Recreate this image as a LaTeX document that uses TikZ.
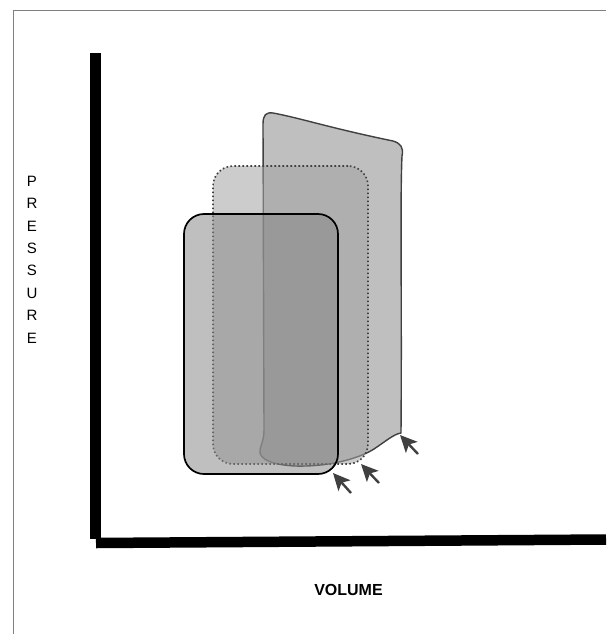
\documentclass[tikz,border=0pt]{standalone}
\usepackage{fontspec}
\setmainfont{Liberation Sans}
\usepackage{tikz}
\usetikzlibrary{arrows.meta}

\definecolor{loopline}{gray}{0.25}
\definecolor{widefill}{gray}{0.75}
\definecolor{dotfill}{gray}{0.64}
\definecolor{frontfill}{gray}{0.53}

\begin{document}
\begin{tikzpicture}[
	    x=1pt, y=-1pt,
	    axis/.style={line width=10.5pt},
	    loopbox/.style={rectangle, rounded corners=20pt, inner sep=0pt},
	    arrow/.style={-{Stealth[length=17pt,width=16pt,inset=4pt]}, line width=2.4pt, draw=loopline, fill=loopline}
	]
		\useasboundingbox (0,0) rectangle (606,634);

		% frame
		\draw[gray, line width=1.4pt] (13.5,634) -- (13.5,10.5) -- (606,10.5);

		% axes
		\draw[axis] (95.5,53) -- (95.5,539);
		\draw[axis] (96,543) -- (606,539.5);

		% widest loop
		\draw[loopline, line width=1.4pt, fill=widefill]
			(264,430) -- (263,124)
			.. controls (263,115) and (266,112) .. (273,113)
			.. controls (300,118) and (330,128) .. (393,141)
			.. controls (400,143) and (404,147) .. (402,156)
			.. controls (400,200) and (402,300) .. (401,433)
			.. controls (394,434) and (386,441) .. (374,449)
			.. controls (360,458) and (330,467) .. (295,466)
			.. controls (275,465) and (258,460) .. (260,450)
			.. controls (261,444) and (264,440) .. cycle;

		% middle loop
		\node[loopbox, draw=loopline, line width=1.6pt,
			dash pattern=on 1.6pt off 2.4pt,
			fill=dotfill, fill opacity=0.55,
			minimum width=155pt, minimum height=298pt] (dotbox) at (290.5,315) {};

		% front loop
		\node[loopbox, draw=black, line width=1.7pt,
			fill=frontfill, fill opacity=0.53,
			minimum width=154pt, minimum height=260pt] (frontbox) at (261,344) {};

		% arrows
		\coordinate (h1) at (333,473);
		\coordinate (t1) at (351,493);
		\coordinate (h2) at (361,464);
		\coordinate (t2) at (379,483);
		\coordinate (h3) at (400,435);
		\coordinate (t3) at (418,454);

		\draw[arrow] (t1) -- (h1);
		\draw[arrow] (t2) -- (h2);
		\draw[arrow] (t3) -- (h3);

		% labels
		\node[align=center, font=\fontsize{15}{22.4}\selectfont, inner sep=0pt]
			(pressure) at (32,259.5) {P\\R\\E\\S\\S\\U\\R\\E};
		\node[font=\fontsize{16}{18}\selectfont\bfseries, inner sep=0pt]
			(volume) at (348.5,590) {VOLUME};
	\end{tikzpicture}
\end{document}
